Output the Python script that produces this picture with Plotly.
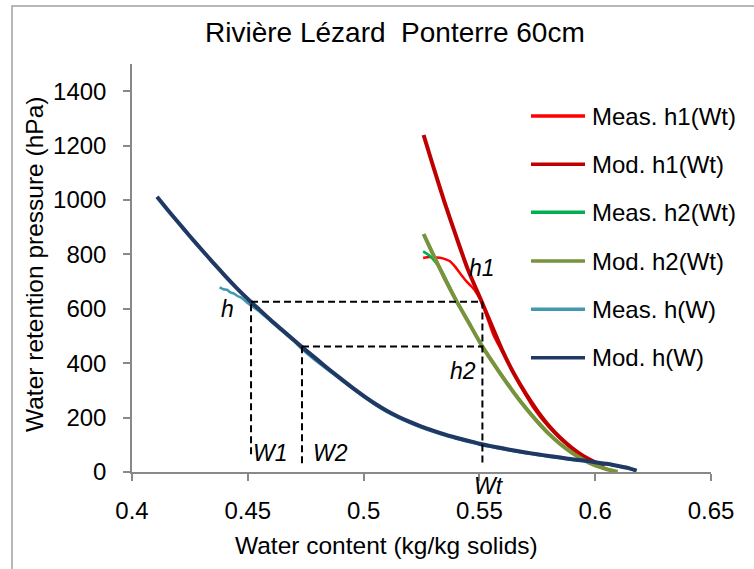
import plotly.graph_objects as go

# ---------------- data ----------------
mod_hW_w = [0.4108, 0.415, 0.420, 0.425, 0.430, 0.435, 0.440, 0.445, 0.450, 0.455, 0.460,
            0.465, 0.470, 0.475, 0.480, 0.485, 0.490, 0.495, 0.500, 0.505, 0.510, 0.515,
            0.520, 0.525, 0.530, 0.535, 0.540, 0.545, 0.550, 0.555, 0.560, 0.565, 0.570,
            0.575, 0.580, 0.585, 0.590, 0.595, 0.600, 0.605, 0.610, 0.614, 0.6179]
mod_hW_h = [1012, 968, 917, 867, 818, 770, 723, 678, 636, 597, 558,
            521, 484, 448, 413, 378, 344, 311, 280, 251, 225, 203,
            184, 167, 152, 138, 126, 115, 104, 95, 87, 79, 72,
            65, 59, 53, 47, 42, 36, 30, 22, 15, 5]

meas_hW_w = [0.4378, 0.4395, 0.441, 0.4425, 0.444, 0.4455, 0.447, 0.449, 0.451, 0.455, 0.460,
             0.465, 0.470, 0.473, 0.478, 0.485, 0.490, 0.500, 0.510, 0.520, 0.530, 0.540,
             0.550, 0.560, 0.570, 0.580, 0.590, 0.600, 0.610, 0.617]
meas_hW_h = [679, 672, 670, 660, 656, 647, 642, 628, 614, 590, 553,
             516, 480, 455, 418, 372, 340, 276, 221, 180, 148, 122,
             101, 84, 69, 56, 45, 35, 21, 6]

mod_h1_w = [0.5259, 0.530, 0.535, 0.540, 0.545, 0.551, 0.555, 0.560, 0.565, 0.570, 0.575,
            0.580, 0.585, 0.590, 0.595, 0.600, 0.604]
mod_h1_h = [1239, 1125, 990, 865, 745, 626, 545, 445, 360, 288, 225,
            170, 125, 88, 58, 36, 22]

meas_h1_w = [0.5257, 0.5285, 0.531, 0.533, 0.5355, 0.5373, 0.5395, 0.5417, 0.544, 0.546,
             0.548, 0.5495, 0.551, 0.5535, 0.556, 0.560, 0.566, 0.573, 0.580, 0.588, 0.596, 0.602]
meas_h1_h = [787, 790, 789, 788, 782, 775, 755, 730, 705, 687,
             668, 648, 628, 565, 505, 440, 345, 240, 165, 100, 52, 30]

mod_h2_w = [0.5259, 0.530, 0.535, 0.540, 0.545, 0.5513, 0.556, 0.560, 0.565, 0.570, 0.575,
            0.580, 0.585, 0.590, 0.595, 0.600, 0.605, 0.6097]
mod_h2_h = [875, 800, 712, 630, 555, 461, 400, 350, 290, 235, 185,
            140, 102, 70, 44, 24, 10, 0]

meas_h2_w = [0.5257, 0.5285, 0.5316, 0.534, 0.540, 0.545, 0.551, 0.556, 0.560, 0.565, 0.570,
             0.575, 0.580, 0.585, 0.590, 0.595, 0.600, 0.605, 0.609]
meas_h2_h = [811, 795, 765, 735, 632, 556, 465, 402, 352, 292, 238,
             188, 142, 104, 72, 46, 25, 11, 2]

# reference construction values
W1, W2, Wt = 0.4514, 0.4734, 0.5513
h_level, h2_level = 626, 461
W1_bottom, W2_bottom, Wt_bottom = 65, 32, 35

series_names = ["Meas. h1(Wt)", "Mod. h1(Wt)", "Meas. h2(Wt)", "Mod. h2(Wt)", "Meas. h(W)", "Mod. h(W)"]
series_colors = ["#FF0000", "#C00000", "#00B050", "#77933C", "#4198B0", "#1F3864"]
series_widths = [2.5, 4, 2.5, 4, 2.5, 4]
series_x = [meas_h1_w, mod_h1_w, meas_h2_w, mod_h2_w, meas_hW_w, mod_hW_w]
series_y = [meas_h1_h, mod_h1_h, meas_h2_h, mod_h2_h, meas_hW_h, mod_hW_h]

x_ticks = [0.4, 0.45, 0.5, 0.55, 0.6, 0.65]
x_ticktext = ["0.4", "0.45", "0.5", "0.55", "0.6", "0.65"]
y_ticks = [0, 200, 400, 600, 800, 1000, 1200, 1400]

# ---------------- layout geometry (pixels) ----------------
W_PX, H_PX = 754, 569
L, R, T, B = 132, 711, 64, 472

def px2x(px):
    return (px - L) / (R - L)

def py2y(py):
    return (B - py) / (B - T)

FONT = "Liberation Sans"
AX = "#898989"

fig = go.Figure()

for nm, col, lw, xs, ys in zip(series_names, series_colors, series_widths, series_x, series_y):
    fig.add_trace(go.Scatter(x=xs, y=ys, mode="lines", name=nm,
                             line=dict(color=col, width=lw, shape="spline", smoothing=0.6),
                             showlegend=False, hoverinfo="skip"))

# dashed construction lines
dash_segments = [
    ([W1, W1], [W1_bottom, h_level]),
    ([W2, W2], [W2_bottom, h2_level]),
    ([Wt, Wt], [Wt_bottom, h_level]),
    ([W1, Wt], [h_level, h_level]),
    ([W2, Wt], [h2_level, h2_level]),
]
for xs, ys in dash_segments:
    fig.add_trace(go.Scatter(x=xs, y=ys, mode="lines",
                             line=dict(color="black", width=2, dash="7px,4px"),
                             showlegend=False, hoverinfo="skip"))

annotations = []
labels = [("h1", 482, 268), ("h2", 463, 371), ("h", 227, 309),
          ("W1", 270, 453), ("W2", 330, 453), ("Wt", 489, 486)]
for txt, px, py in labels:
    annotations.append(dict(text="<i>%s</i>" % txt, x=px2x(px), y=py2y(py), xref="paper", yref="paper",
                            showarrow=False, xanchor="center", yanchor="middle",
                            font=dict(family=FONT, size=23, color="black")))

annotations.append(dict(text="Rivière Lézard\u00a0 Ponterre 60cm", x=px2x(395), y=py2y(32),
                        xref="paper", yref="paper", showarrow=False, xanchor="center", yanchor="middle",
                        font=dict(family=FONT, size=28, color="black")))
annotations.append(dict(text="Water content (kg/kg solids)", x=px2x(386), y=py2y(545),
                        xref="paper", yref="paper", showarrow=False, xanchor="center", yanchor="middle",
                        font=dict(family=FONT, size=24.5, color="black")))
annotations.append(dict(text="Water retention pressure (hPa)", x=px2x(34), y=py2y(265),
                        xref="paper", yref="paper", showarrow=False, xanchor="center", yanchor="middle",
                        textangle=-90, font=dict(family=FONT, size=24.5, color="black")))

# manual legend
shapes = []
leg_y = [116, 164.3, 212.3, 261, 309.3, 357.7]
for nm, col, ly in zip(series_names, series_colors, leg_y):
    shapes.append(dict(type="line", xref="paper", yref="paper",
                       x0=px2x(531), x1=px2x(585), y0=py2y(ly), y1=py2y(ly),
                       line=dict(color=col, width=3.5)))
    annotations.append(dict(text=nm, x=px2x(590), y=py2y(ly), xref="paper", yref="paper",
                            showarrow=False, xanchor="left", yanchor="middle",
                            font=dict(family=FONT, size=24, color="black")))

# chart border
shapes.append(dict(type="rect", xref="paper", yref="paper",
                   x0=px2x(12), x1=px2x(770), y0=py2y(6), y1=py2y(590),
                   line=dict(color="#A0A0A0", width=1.5), layer="below"))

fig.update_layout(
    width=W_PX, height=H_PX,
    margin=dict(l=L, r=W_PX - R, t=T, b=H_PX - B, pad=0),
    paper_bgcolor="white", plot_bgcolor="white",
    showlegend=False,
    font=dict(family=FONT, size=24, color="black"),
    annotations=annotations, shapes=shapes,
    xaxis=dict(range=[0.4, 0.65], tickvals=x_ticks, ticktext=x_ticktext,
               showgrid=False, zeroline=False, showline=True, linecolor=AX, linewidth=1.5,
               ticks="outside", ticklen=7, tickcolor=AX, tickwidth=1.5,
               ticklabelstandoff=9, tickfont=dict(family=FONT, size=24)),
    yaxis=dict(range=[0, 1500], tickvals=y_ticks,
               showgrid=False, zeroline=False, showline=True, linecolor=AX, linewidth=1.5,
               ticks="outside", ticklen=7, tickcolor=AX, tickwidth=1.5,
               ticklabelstandoff=12, tickfont=dict(family=FONT, size=24)),
)

fig.write_html("out.html")
